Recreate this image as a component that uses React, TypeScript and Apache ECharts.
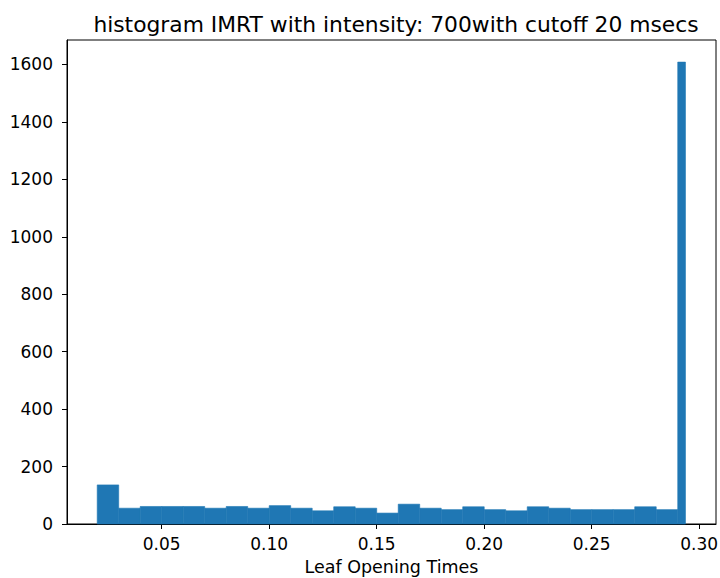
import React, { useEffect, useRef } from "react";
import * as echarts from "echarts";

const binEdges = [
  0.02, 0.03, 0.04, 0.05, 0.06, 0.07, 0.08, 0.09, 0.10, 0.11, 0.12, 0.13, 0.14, 0.15,
  0.16, 0.17, 0.18, 0.19, 0.20, 0.21, 0.22, 0.23, 0.24, 0.25, 0.26, 0.27, 0.28, 0.29, 0.2936,
];
const counts = [
  136, 55, 61, 61, 61, 55, 61, 55, 64, 55, 46, 60, 55, 38, 69, 55, 50, 60, 50, 46, 60, 55, 50,
  50, 50, 60, 50, 1608,
];
const xTicks = [0.05, 0.1, 0.15, 0.2, 0.25, 0.3];
const titleText = "histogram IMRT with intensity: 700with cutoff 20 msecs";
const xLabel = "Leaf Opening Times";

export default function App() {
  const ref = useRef<HTMLDivElement>(null);
  useEffect(() => {
    if (!ref.current) return;
    const chart = echarts.init(ref.current, null, { renderer: "svg" });
    const data = counts.map((c, i) => [binEdges[i], binEdges[i + 1], c]);
    const font = "DejaVu Sans";
    chart.setOption({
      animation: false,
      backgroundColor: "#fff",
      textStyle: { fontFamily: font },
      title: {
        text: titleText,
        left: 391,
        textAlign: "center",
        top: 8,
        textStyle: { fontFamily: font, fontSize: 21.8, fontWeight: "normal", color: "#000" },
      },
      grid: {
        left: 67,
        right: 4,
        top: 40,
        bottom: 54,
        outerBoundsMode: "none",
        containLabel: false,
        show: true,
        borderColor: "#000",
        borderWidth: 1,
        backgroundColor: "transparent",
      },
      xAxis: {
        type: "value",
        min: 0.00595,
        max: 0.3078,
        name: xLabel,
        nameLocation: "middle",
        nameGap: 34,
        nameTextStyle: { fontFamily: font, fontSize: 17.5, color: "#000" },
        axisLine: { show: true, onZero: false, lineStyle: { color: "#000", width: 1 } },
        axisTick: { show: true, length: 5, customValues: xTicks, lineStyle: { color: "#000" } },
        axisLabel: {
          customValues: xTicks,
          margin: 11,
          fontFamily: font,
          fontSize: 17,
          color: "#000",
          formatter: (v: number) => v.toFixed(2),
        },
        splitLine: { show: false },
      },
      yAxis: {
        type: "value",
        min: 0,
        max: 1685,
        interval: 200,
        axisLine: { show: true, lineStyle: { color: "#000", width: 1 } },
        axisTick: { show: true, length: 5, lineStyle: { color: "#000" } },
        axisLabel: {
          margin: 14,
          fontFamily: font,
          fontSize: 17,
          color: "#000",
          showMaxLabel: false,
          formatter: (v: number) => String(v),
        },
        splitLine: { show: false },
      },
      series: [
        {
          type: "custom",
          data,
          encode: { x: [0, 1], y: 2 },
          renderItem: (params: any, api: any) => {
            const p0 = api.coord([api.value(0), 0]);
            const p1 = api.coord([api.value(1), api.value(2)]);
            return {
              type: "rect",
              shape: { x: p0[0], y: p1[1], width: p1[0] - p0[0], height: p0[1] - p1[1] },
              style: { fill: "#1f77b4", stroke: "#1f77b4", lineWidth: 0.6 },
            };
          },
        },
      ],
    });
    return () => chart.dispose();
  }, []);
  return <div ref={ref} style={{ width: 720, height: 578, position: "absolute", left: 0, top: 0 }} />;
}
